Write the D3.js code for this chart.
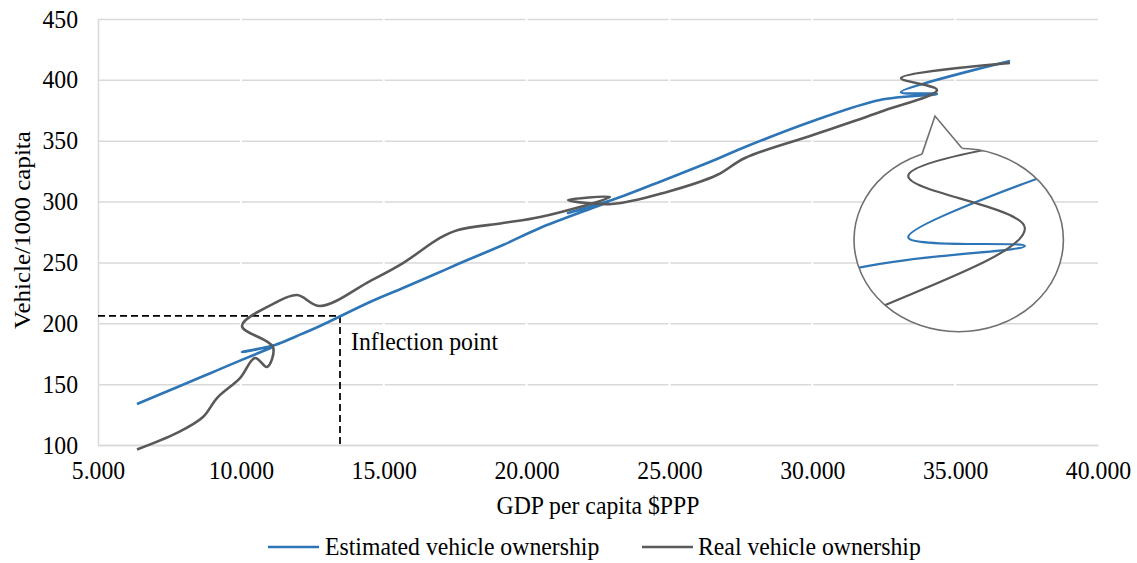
<!DOCTYPE html>
<html>
<head>
<meta charset="utf-8">
<script src="https://cdn.jsdelivr.net/npm/d3@7"></script>
<style>
body{margin:0;background:#fff}
</style>
</head>
<body>
<svg id="chart" width="1137" height="563"></svg>
<script>
// GDP per capita ($PPP), one value per year, in chart order
var gdp = [6365, 7765, 8675, 9165, 9970, 10495, 10915, 11125, 10040, 11195, 11965, 12770,
           14520, 15675, 16970, 17600, 19175, 20470, 22920, 21450, 22990, 24915,
           26665, 27645, 30025, 32370, 34365, 33105, 36920];
// vehicles per 1000 capita
var realOwn = [96.3, 109.9, 123.0, 138.6, 155.0, 171.5, 164.1, 180.5, 197.8, 216.7, 223.2, 214.2,
               234.7, 249.5, 270.1, 276.6, 282.4, 287.3, 303.8, 301.3, 298.0, 307.9,
               321.8, 335.8, 354.7, 373.6, 391.7, 401.5, 413.9];
var estOwn = [133.7, 147.5, 156.5, 161.3, 169.3, 174.4, 178.5, 180.6, 176.4, 182.2, 189.6, 197.8,
              217.5, 229.0, 242.1, 248.7, 264.3, 278.3, 300.5, 290.6, 301.3, 318.6,
              335.0, 344.8, 366.2, 383.5, 388.4, 390.0, 415.5];
var xTicks = [5000, 10000, 15000, 20000, 25000, 30000, 35000, 40000];
var yTicks = [100, 150, 200, 250, 300, 350, 400, 450];
var inflection = {gdp: 13470, veh: 206};
var insetFocus = {gdp: 33650, veh: 389.5};

var series = [
  {name: 'Estimated vehicle ownership', values: estOwn, color: '#2e75b6'},
  {name: 'Real vehicle ownership', values: realOwn, color: '#595959'}
];

var FONT = '"Liberation Serif", "Times New Roman", serif';
var svg = d3.select('#chart').attr('font-family', FONT);
var SX = 0.95; // text is slightly narrow in the picture
var fontSize = 25;

var x = d3.scaleLinear().domain([5000, 40000]).range([98, 1098]);
var y = d3.scaleLinear().domain([100, 450]).range([445, 19]);
var fmt = d3.formatLocale({decimal: ',', thousands: '.', grouping: [3], currency: ['$', '']}).format(',d');

/* grid horizontal */
svg.append('g').attr('transform', 'translate(98,0)')
  .call(d3.axisLeft(y).tickValues(yTicks).tickSize(-1000).tickFormat(''))
  .call(g => g.select('.domain').remove())
  .selectAll('line').attr('stroke', '#d9d9d9').attr('stroke-width', 1.5);

/* thin white breaks in the grid at the x ticks */
svg.append('g').selectAll('line')
  .data(xTicks.slice(1, -1))
  .enter().append('line')
    .attr('x1', d => x(d)).attr('x2', d => x(d))
    .attr('y1', y(450) - 2).attr('y2', y(100) - 1)
    .attr('stroke', '#fff').attr('stroke-width', 2);

/* axes */
var xAxG = svg.append('g').attr('transform', 'translate(0,445)')
  .call(d3.axisBottom(x).tickValues(xTicks).tickSize(0).tickPadding(16).tickFormat(fmt));
var yAxG = svg.append('g').attr('transform', 'translate(98,0)')
  .call(d3.axisLeft(y).tickValues(yTicks).tickSize(0));
[xAxG, yAxG].forEach(g => {
  g.attr('font-size', fontSize).attr('font-family', FONT);
  g.select('.domain').attr('stroke', '#d9d9d9').attr('stroke-width', 1.5);
  g.selectAll('text').attr('fill', '#000').attr('transform', 'scale(' + SX + ',1)');
});
yAxG.selectAll('text').attr('x', -21);

function label(sel) {
  return sel.attr('font-family', FONT).attr('font-size', fontSize).attr('fill', '#000');
}

svg.append('text').call(label)
  .attr('transform', 'translate(598,514) scale(' + SX + ',1)')
  .attr('text-anchor', 'middle')
  .text('GDP per capita $PPP');
svg.append('text').call(label)
  .attr('transform', 'translate(30,230) scale(' + SX + ',1) rotate(-90)')
  .attr('text-anchor', 'middle')
  .text('Vehicle/1000 capita');

/* inflection point guides */
svg.append('path')
  .attr('d', 'M' + x(5000) + ',' + y(inflection.veh) + 'H' + x(inflection.gdp) + 'V' + y(100))
  .attr('fill', 'none').attr('stroke', '#000').attr('stroke-width', 1.75)
  .attr('stroke-dasharray', '7,4');
svg.append('text').call(label)
  .attr('transform', 'translate(' + (x(inflection.gdp) + 11) + ',' + (y(inflection.veh) + 34) + ') scale(' + SX + ',1)')
  .text('Inflection point');

/* series */
function lineFor(xs, ys) {
  return d3.line()
    .x((d, i) => xs(gdp[i]))
    .y(d => ys(d))
    .curve(d3.curveCatmullRom.alpha(0.5));
}
svg.append('g').selectAll('path')
  .data(series)
  .enter().append('path')
    .attr('d', d => lineFor(x, y)(d.values))
    .attr('fill', 'none')
    .attr('stroke', d => d.color)
    .attr('stroke-width', 2.6)
    .attr('stroke-linejoin', 'round');

/* magnified inset */
var ins = {cx: 958.7, cy: 240, rx: 104.7, ry: 91.7, kx: 3.24, ky: 4.4};
var xi = d3.scaleLinear().domain(x.domain())
  .range(x.range().map(r => ins.cx + ins.kx * (r - x(insetFocus.gdp))));
var yi = d3.scaleLinear().domain(y.domain())
  .range(y.range().map(r => ins.cy + ins.ky * (r - y(insetFocus.veh))));

svg.append('clipPath').attr('id', 'insetClip')
  .append('ellipse').attr('cx', ins.cx).attr('cy', ins.cy).attr('rx', ins.rx).attr('ry', ins.ry);
svg.append('ellipse')
  .attr('cx', ins.cx).attr('cy', ins.cy).attr('rx', ins.rx).attr('ry', ins.ry)
  .attr('fill', '#fff');
svg.append('g').attr('clip-path', 'url(#insetClip)')
  .selectAll('path').data(series)
  .enter().append('path')
    .attr('d', d => lineFor(xi, yi)(d.values))
    .attr('fill', 'none')
    .attr('stroke', d => d.color)
    .attr('stroke-width', 2.2);
svg.append('ellipse')
  .attr('cx', ins.cx).attr('cy', ins.cy).attr('rx', ins.rx).attr('ry', ins.ry)
  .attr('fill', 'none').attr('stroke', '#707070').attr('stroke-width', 1.6);

// pointer of the callout
function onEllipse(px) {
  var dx = (px - ins.cx) / ins.rx;
  return [px, ins.cy - ins.ry * Math.sqrt(1 - dx * dx)];
}
var b1 = onEllipse(922), b2 = onEllipse(962), apex = [935, 116];
svg.append('path')
  .attr('d', 'M' + b1 + 'L' + apex + 'L' + b2 + 'L' + [b2[0], b2[1] + 3] + 'L' + [b1[0], b1[1] + 3] + 'Z')
  .attr('fill', '#fff');
svg.append('path')
  .attr('d', 'M' + b1 + 'L' + apex + 'L' + b2)
  .attr('fill', 'none').attr('stroke', '#707070').attr('stroke-width', 1.6)
  .attr('stroke-linejoin', 'miter');

/* legend */
var legendPos = [{lx: 268, tx: 325}, {lx: 642, tx: 698}];
var leg = svg.append('g').selectAll('g').data(series).enter().append('g');
leg.append('line')
  .attr('x1', (d, i) => legendPos[i].lx).attr('x2', (d, i) => legendPos[i].lx + 51)
  .attr('y1', 547).attr('y2', 547)
  .attr('stroke', d => d.color).attr('stroke-width', 2.6);
leg.append('text').call(label)
  .attr('transform', (d, i) => 'translate(' + legendPos[i].tx + ',555) scale(' + SX + ',1)')
  .text(d => d.name);
</script>
</body>
</html>
